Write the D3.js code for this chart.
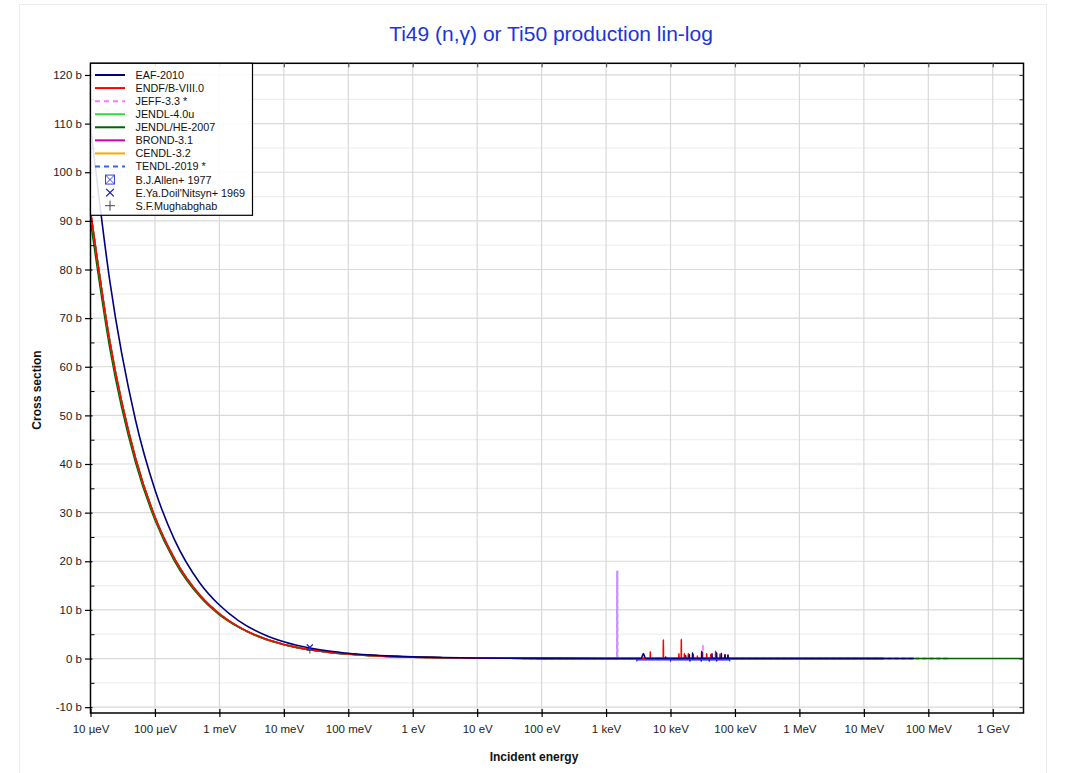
<!DOCTYPE html>
<html><head><meta charset="utf-8">
<script src="https://cdn.jsdelivr.net/npm/d3@7"></script>
<style>
body{margin:0;background:#fff;}
svg{display:block;font-family:"Liberation Sans",Arial,sans-serif;}
</style></head>
<body><svg id="c" width="1067" height="773"></svg>
<script>
// ---------- data ----------
const thermalE   = [1e-5,2e-5,5e-5,1e-4,2e-4,5e-4,1e-3,2e-3,5e-3,1e-2,2.53e-2,5e-2,0.1,0.2,0.5,1,3,10,100,1000];
const xsENDF     = [92.0,65.1,41.2,29.1,20.6,13.0,9.2,6.5,4.1,2.9,1.83,1.30,0.92,0.65,0.41,0.29,0.17,0.09,0.03,0.01];
const xsEAF      = [109.6,77.5,49.0,34.7,24.5,15.5,11.0,7.75,4.9,3.47,2.18,1.55,1.10,0.78,0.49,0.35,0.20,0.11,0.035,0.011];
const xsJENDLHE  = [90.0,63.7,40.3,28.5,20.1,12.7,9.0,6.4,4.0,2.85,1.79,1.27,0.90,0.64,0.40,0.28,0.16,0.09,0.03,0.01];

// resonance spikes: energy (eV) and peak (b)
const endfResE    = [4.86e3,7.74e3,1.35e4,1.47e4,1.64e4,1.89e4,2.26e4,2.61e4,3.04e4,3.64e4,4.2e4,5.01e4,5.85e4,7.0e4,7.79e4];
const endfResPeak = [1.4,3.9,1.0,4.0,1.0,1.0,0.8,0.5,1.5,1.0,0.8,1.5,0.9,0.8,0.7];
const eafResE     = [3.79e3,8.4e3,1.72e4,1.96e4,2.2e4,3.07e4,4.4e4,5.2e4,6.15e4,7.0e4,7.79e4];
const eafResPeak  = [1.0,0.3,0.6,0.8,1.2,1.4,1.0,1.2,1.1,0.8,0.7];
const eafResWidth = [1.08,1.004,1.004,1.004,1.004,1.004,1.004,1.004,1.004,1.004,1.004];
const jeffResE    = [1.496e3,3.19e4];
const jeffResPeak = [17.9,2.9];
const tendlResE   = [1.496e3];
const tendlResPeak= [17.9];

// upper energy limits of each evaluation (eV)
const libNames  = ["EAF-2010","ENDF/B-VIII.0","JEFF-3.3 *","JENDL-4.0u","JENDL/HE-2007","BROND-3.1","CENDL-3.2","TENDL-2019 *"];
const libEndE   = [6e7,2e7,2e8,2e7,3e9,2e7,2e7,2e8];
const libColors = ["#000080","#ff0000","#ff77ff","#33dd33","#006400","#cc00aa","#ffa500","#3366ee"];
const libDashed = [false,false,true,false,false,false,false,true];

// experimental data
const allenLo  = [3e3,1e4,2e4,3e4,4e4,5.2e4];
const allenHi  = [1e4,2e4,3e4,4e4,5.2e4,8.3e4];
const allenXs  = [-0.3,-0.3,-0.3,-0.3,-0.3,-0.3];
const doilE = [0.0253], doilXs = [2.3];
const mughE = [0.0253], mughXs = [1.75];

const xTickVals   = [1e-5,1e-4,1e-3,1e-2,1e-1,1,10,100,1e3,1e4,1e5,1e6,1e7,1e8,1e9];
const xTickLabels = ["10 µeV","100 µeV","1 meV","10 meV","100 meV","1 eV","10 eV","100 eV","1 keV","10 keV","100 keV","1 MeV","10 MeV","100 MeV","1 GeV"];
const yMajor = [-10,0,10,20,30,40,50,60,70,80,90,100,110,120];
const yMinor = [-5,5,15,25,35,45,55,65,75,85,95,105,115];

// ---------- build series ----------
function spikes(E, P, W){
  const pts=[];
  E.forEach((e,i)=>{ const w = W? W[i] : 1.004; pts.push([e/w,0.01],[e,P[i]],[e*w,0.01]); });
  return pts;
}
function series(thermal, resE, resP, resW, endE){
  const pts = thermalE.map((e,i)=>[e,thermal[i]]);
  if(resE) pts.push(...spikes(resE,resP,resW));
  pts.push([1.2e5,0.004],[endE,0.001]);
  return pts;
}
const libData = [
  series(xsEAF, eafResE, eafResPeak, eafResWidth, libEndE[0]),
  series(xsENDF, endfResE, endfResPeak, null, libEndE[1]),
  series(xsENDF, jeffResE, jeffResPeak, null, libEndE[2]),
  series(xsENDF, null, null, null, libEndE[3]),
  series(xsJENDLHE, null, null, null, libEndE[4]),
  series(xsENDF, null, null, null, libEndE[5]),
  series(xsENDF, null, null, null, libEndE[6]),
  series(xsENDF, tendlResE, tendlResPeak, null, libEndE[7])
];

// ---------- chart ----------
const svg = d3.select("#c");
const L=90.5, R=1023.5, T=63.3, B=713;
const x = d3.scaleLog().domain([1e-5,3e9]).range([L,R]);
const y = d3.scaleLinear().domain([-11.2,122.4]).range([B,T]);

svg.append("rect").attr("x",19.5).attr("y",4.5).attr("width",1027).attr("height",790)
  .attr("fill","#fff").attr("stroke","#ececec");

// grid
const g = svg.append("g");
g.selectAll(".ymin").data(yMinor).enter().append("line")
  .attr("x1",L).attr("x2",R).attr("y1",d=>y(d)).attr("y2",d=>y(d))
  .attr("stroke","#efefef").attr("stroke-width",1.2);
g.selectAll(".ymaj").data(yMajor).enter().append("line")
  .attr("x1",L).attr("x2",R).attr("y1",d=>y(d)).attr("y2",d=>y(d))
  .attr("stroke","#d9d9d9").attr("stroke-width",1.2);
g.selectAll(".xg").data(xTickVals).enter().append("line")
  .attr("x1",d=>x(d)).attr("x2",d=>x(d)).attr("y1",T).attr("y2",B)
  .attr("stroke","#d9d9d9").attr("stroke-width",1.2);

// curves
svg.append("clipPath").attr("id","pc").append("rect")
  .attr("x",L).attr("y",T).attr("width",R-L).attr("height",B-T);
const curves = svg.append("g").attr("clip-path","url(#pc)");
const line = d3.line().x(d=>x(d[0])).y(d=>y(d[1])).curve(d3.curveMonotoneX);
const drawOrder = [7,2,6,5,4,3,1,0];
drawOrder.forEach(i=>{
  curves.append("path").datum(libData[i]).attr("d",line)
    .attr("fill","none").attr("stroke",libColors[i]).attr("stroke-width",1.6)
    .attr("stroke-dasharray",libDashed[i]?"4,3":null);
});

// experimental
const allen = curves.append("g").attr("stroke","#2222dd").attr("stroke-width",1.1);
allenLo.forEach((lo,i)=>{
  const yy=y(allenXs[i]);
  allen.append("line").attr("x1",x(lo)).attr("x2",x(allenHi[i])).attr("y1",yy).attr("y2",yy);
  allen.append("line").attr("x1",x(lo)).attr("x2",x(lo)).attr("y1",yy-1.5).attr("y2",yy+1.5);
  allen.append("line").attr("x1",x(allenHi[i])).attr("x2",x(allenHi[i])).attr("y1",yy-1.5).attr("y2",yy+1.5);
});
doilE.forEach((e,i)=>{
  const cx=x(e), cy=y(doilXs[i]), s=3;
  curves.append("path").attr("d",`M${cx-s},${cy-s}L${cx+s},${cy+s}M${cx-s},${cy+s}L${cx+s},${cy-s}`)
    .attr("stroke","#1010cc").attr("stroke-width",1.3);
});
mughE.forEach((e,i)=>{
  const cx=x(e), cy=y(mughXs[i]), s=3.5;
  curves.append("path").attr("d",`M${cx-s},${cy}L${cx+s},${cy}M${cx},${cy-s}L${cx},${cy+s}`)
    .attr("stroke","#444").attr("stroke-width",1);
});

// frame
svg.append("rect").attr("x",L).attr("y",T).attr("width",R-L).attr("height",B-T)
  .attr("fill","none").attr("stroke","#000").attr("stroke-width",1.5);

// bottom axis
const xAxis = d3.axisBottom(x).tickValues(xTickVals).tickFormat((d,i)=>xTickLabels[i]).tickSize(4).tickPadding(8);
const gx = svg.append("g").attr("transform",`translate(0,${B})`).call(xAxis);
gx.select(".domain").remove();
gx.selectAll(".tick line").attr("y1",-4).attr("y2",4).attr("stroke","#000").attr("stroke-width",1.2);
gx.selectAll("text").attr("font-size",11.5).attr("fill","#222").attr("font-family","Liberation Sans, Arial, sans-serif");

// top ticks
const xTop = d3.axisTop(x).tickValues(xTickVals).tickFormat("").tickSize(-4);
const gt = svg.append("g").attr("transform",`translate(0,${T})`).call(xTop);
gt.select(".domain").remove();
gt.selectAll(".tick line").attr("stroke","#555").attr("stroke-width",1.2);

// left axis
const yAxis = d3.axisLeft(y).tickValues(yMajor).tickFormat(d=>d+" b").tickSize(5.5).tickPadding(3);
const gy = svg.append("g").attr("transform",`translate(${L},0)`).call(yAxis);
gy.select(".domain").remove();
gy.selectAll(".tick line").attr("x1",2).attr("stroke","#000").attr("stroke-width",1.2);
gy.selectAll("text").attr("font-size",11.5).attr("fill","#222").attr("font-family","Liberation Sans, Arial, sans-serif");
const yMinAxis = d3.axisLeft(y).tickValues(yMinor).tickFormat("").tickSize(-4);
const gym = svg.append("g").attr("transform",`translate(${L},0)`).call(yMinAxis);
gym.select(".domain").remove();
gym.selectAll(".tick line").attr("stroke","#000");

// right axis ticks
const yR = d3.axisRight(y).tickValues(yMajor.concat(yMinor)).tickFormat("").tickSize(-4);
const gr = svg.append("g").attr("transform",`translate(${R},0)`).call(yR);
gr.select(".domain").remove();
gr.selectAll(".tick line").attr("stroke","#333");

// titles
svg.append("text").attr("x",551).attr("y",41).attr("text-anchor","middle")
  .attr("font-size",21).attr("fill","#1a35d8").text("Ti49 (n,γ) or Ti50 production lin-log");
svg.append("text").attr("x",534).attr("y",761).attr("text-anchor","middle")
  .attr("font-size",12).attr("font-weight","bold").attr("fill","#111").text("Incident energy");
svg.append("text").attr("transform","translate(41,390) rotate(-90)").attr("text-anchor","middle")
  .attr("font-size",12).attr("font-weight","bold").attr("fill","#111").text("Cross section");

// legend
const leg = svg.append("g");
leg.append("rect").attr("x",L).attr("y",T).attr("width",162).attr("height",152)
  .attr("fill","#fff").attr("fill-opacity",0.88).attr("stroke","#000").attr("stroke-width",1.2);
const legNames = libNames.concat(["B.J.Allen+ 1977","E.Ya.Doil'Nitsyn+ 1969","S.F.Mughabghab"]);
legNames.forEach((name,i)=>{
  const yy = 75 + i*13.07;
  if(i<8){
    leg.append("line").attr("x1",95).attr("x2",125).attr("y1",yy).attr("y2",yy)
      .attr("stroke",libColors[i]).attr("stroke-width",2)
      .attr("stroke-dasharray",libDashed[i]?"5,4":null);
  } else if(i===8){
    const cx=110, s=4.5;
    leg.append("rect").attr("x",cx-s).attr("y",yy-s).attr("width",2*s).attr("height",2*s)
      .attr("fill","none").attr("stroke","#3344dd").attr("stroke-width",1);
    leg.append("path").attr("d",`M${cx-s},${yy-s}L${cx+s},${yy+s}M${cx-s},${yy+s}L${cx+s},${yy-s}`)
      .attr("stroke","#3344dd").attr("stroke-width",1);
  } else if(i===9){
    const cx=110, s=3.8;
    leg.append("path").attr("d",`M${cx-s},${yy-s}L${cx+s},${yy+s}M${cx-s},${yy+s}L${cx+s},${yy-s}`)
      .attr("stroke","#1010cc").attr("stroke-width",1.2);
  } else {
    const cx=110, s=5;
    leg.append("path").attr("d",`M${cx-s},${yy}L${cx+s},${yy}M${cx},${yy-s}L${cx},${yy+s}`)
      .attr("stroke","#444").attr("stroke-width",1);
  }
  leg.append("text").attr("x",135.5).attr("y",yy+4).attr("font-size",10.8).attr("fill","#111").text(name);
});
</script></body></html>
